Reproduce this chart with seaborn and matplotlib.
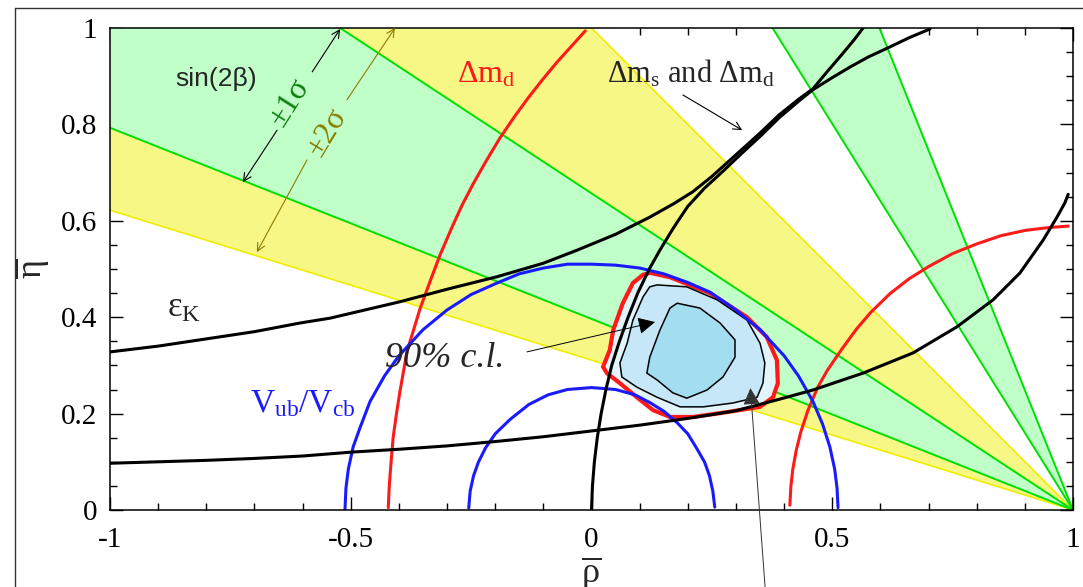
import numpy as np
import pandas as pd
import matplotlib
matplotlib.use("Agg")
import matplotlib.pyplot as plt
import seaborn as sns
from matplotlib.lines import Line2D
from matplotlib.ticker import FixedLocator, MultipleLocator

# sin(2beta) bands: all edges start at (rho, eta) = (1, 0)
apex = (1.0, 0.0)
band2_top_rho = 0.0        # 2 sigma, upper edge meets eta = 1
band2_left_eta = 0.622     # 2 sigma, lower edge meets rho = -1
band1_top_rho = -0.522     # 1 sigma, upper edge meets eta = 1
band1_left_eta = 0.793     # 1 sigma, lower edge meets rho = -1
band_b_top_rho = [0.376, 0.598]  # second solution, 1 sigma

# Delta m_d circles
dmd_out_rho = [-0.422, -0.420, -0.417, -0.412, -0.405, -0.398, -0.390, -0.383, -0.370, -0.356,
               -0.335, -0.315, -0.290, -0.269, -0.245, -0.220, -0.190, -0.160, -0.130, -0.100,
               -0.070, -0.040, -0.013]
dmd_out_eta = [0.005, 0.050, 0.090, 0.150, 0.200, 0.245, 0.290, 0.330, 0.372, 0.418,
               0.475, 0.528, 0.586, 0.632, 0.678, 0.722, 0.772, 0.816, 0.857, 0.895,
               0.931, 0.964, 0.994]
dmd_in_rho = [0.412, 0.414, 0.418, 0.425, 0.435, 0.450, 0.470, 0.490, 0.520, 0.550, 0.580,
              0.620, 0.660, 0.700, 0.750, 0.800, 0.850, 0.900, 0.950, 0.990]
dmd_in_eta = [0.010, 0.048, 0.084, 0.123, 0.163, 0.208, 0.255, 0.290, 0.334, 0.375, 0.410,
              0.449, 0.480, 0.505, 0.532, 0.552, 0.569, 0.580, 0.586, 0.589]

# |Vub/Vcb| circles
vub_out_rho = [-0.512, -0.510, -0.505, -0.495, -0.481, -0.460, -0.430, -0.400, -0.350, -0.300,
               -0.250, -0.196, -0.150, -0.100, -0.050, 0.000, 0.050, 0.100, 0.150, 0.200,
               0.246, 0.300, 0.350, 0.400, 0.430, 0.460, 0.480, 0.495, 0.505, 0.510, 0.512]
vub_out_eta = [0.000, 0.045, 0.085, 0.131, 0.170, 0.225, 0.278, 0.320, 0.374, 0.415,
               0.447, 0.471, 0.490, 0.502, 0.510, 0.510, 0.508, 0.502, 0.490, 0.472,
               0.452, 0.415, 0.374, 0.320, 0.278, 0.225, 0.178, 0.131, 0.085, 0.045, 0.005]
vub_in_rho = [-0.255, -0.252, -0.245, -0.235, -0.220, -0.200, -0.169, -0.130, -0.090, -0.050,
              0.000, 0.050, 0.090, 0.121, 0.150, 0.178, 0.200, 0.219, 0.235, 0.245, 0.252, 0.256]
vub_in_eta = [0.004, 0.039, 0.071, 0.099, 0.129, 0.158, 0.188, 0.219, 0.239, 0.250,
              0.254, 0.250, 0.239, 0.223, 0.205, 0.181, 0.158, 0.127, 0.099, 0.071, 0.039, 0.006]

# epsilon_K hyperbolas
ek_low_rho = [-1.0, -0.9, -0.8, -0.7, -0.6, -0.5, -0.4, -0.3, -0.2, -0.1, 0.0, 0.1, 0.2, 0.3,
              0.391, 0.46, 0.564, 0.668, 0.759, 0.834, 0.89, 0.938, 0.967, 0.983, 0.99]
ek_low_eta = [0.097, 0.100, 0.103, 0.107, 0.112, 0.120, 0.126, 0.133, 0.142, 0.152, 0.164,
              0.176, 0.190, 0.206, 0.230, 0.249, 0.284, 0.326, 0.380, 0.436, 0.492, 0.560,
              0.608, 0.637, 0.655]
ek_up_rho = [-1.0, -0.9, -0.8, -0.7, -0.605, -0.543, -0.398, -0.3, -0.196, -0.1, -0.03, 0.05,
             0.12, 0.17, 0.21, 0.25, 0.30, 0.35, 0.39, 0.43, 0.46, 0.49, 0.52, 0.545, 0.564]
ek_up_eta = [0.328, 0.340, 0.355, 0.370, 0.388, 0.398, 0.432, 0.458, 0.484, 0.512, 0.539,
             0.572, 0.607, 0.635, 0.660, 0.692, 0.737, 0.782, 0.820, 0.852, 0.874, 0.910,
             0.945, 0.975, 1.0]

# Delta m_s / Delta m_d
dms_rho = [0.0, 0.002, 0.006, 0.012, 0.020, 0.030, 0.042, 0.058, 0.076, 0.096, 0.120, 0.142,
           0.170, 0.200, 0.235, 0.270, 0.310, 0.350, 0.390, 0.430, 0.460, 0.500, 0.537, 0.575,
           0.614, 0.660, 0.703]
dms_eta = [0.0, 0.050, 0.100, 0.150, 0.200, 0.250, 0.300, 0.350, 0.400, 0.450, 0.500, 0.539,
           0.585, 0.630, 0.668, 0.700, 0.738, 0.775, 0.814, 0.848, 0.872, 0.897, 0.919, 0.940,
           0.958, 0.980, 0.998]

# fit contours
cl_red_rho = [0.122, 0.163, 0.246, 0.323, 0.364, 0.385, 0.387, 0.377, 0.350, 0.281, 0.211,
              0.163, 0.128, 0.094, 0.059, 0.032, 0.024, 0.038, 0.045, 0.065, 0.086, 0.107]
cl_red_eta = [0.492, 0.483, 0.450, 0.400, 0.359, 0.311, 0.263, 0.234, 0.214, 0.203, 0.193,
              0.193, 0.207, 0.234, 0.263, 0.284, 0.297, 0.332, 0.373, 0.429, 0.471, 0.488]
cl_mid_rho = [0.136, 0.198, 0.261, 0.323, 0.350, 0.360, 0.356, 0.344, 0.294, 0.232, 0.184,
              0.136, 0.094, 0.063, 0.059, 0.074, 0.086, 0.107, 0.121]
cl_mid_eta = [0.467, 0.463, 0.436, 0.394, 0.346, 0.305, 0.263, 0.234, 0.222, 0.214, 0.214,
              0.234, 0.255, 0.276, 0.305, 0.346, 0.394, 0.442, 0.463]
cl_in_rho = [0.178, 0.225, 0.267, 0.298, 0.298, 0.273, 0.240, 0.198, 0.169, 0.136, 0.115,
             0.121, 0.142, 0.163]
cl_in_eta = [0.429, 0.419, 0.388, 0.353, 0.317, 0.276, 0.249, 0.232, 0.243, 0.270, 0.284,
             0.317, 0.373, 0.419]

xtick_vals = [-1, -0.5, 0, 0.5, 1]
xtick_labels = ['-1', '-0.5', '0', '0.5', '1']
ytick_vals = [0, 0.2, 0.4, 0.6, 0.8, 1]
ytick_labels = ['0', '0.2', '0.4', '0.6', '0.8', '1']

GREEN_FILL = '#c0ffc8'
YELLOW_FILL = '#f7f786'
GREEN_LINE = '#00e000'
YELLOW_LINE = '#eeee00'
RED = '#ff1a1a'
BLUE = '#1a1aff'

sns.set_theme(style='ticks')
plt.rcParams['font.family'] = ['Liberation Serif', 'DejaVu Serif']
plt.rcParams['mathtext.fontset'] = 'stix'
plt.rcParams['mathtext.default'] = 'regular'
plt.rcParams['axes.unicode_minus'] = False

fig = plt.figure(figsize=(10.83, 5.87), dpi=100)
ax = fig.add_axes([110 / 1083, 77 / 587, 963 / 1083, 482 / 587])

# bands
ax.fill([apex[0], -1, -1, band2_top_rho], [apex[1], band2_left_eta, 1, 1],
        color=YELLOW_FILL, lw=0, zorder=1)
ax.fill([apex[0], -1, -1, band1_top_rho], [apex[1], band1_left_eta, 1, 1],
        color=GREEN_FILL, lw=0, zorder=1.1)
ax.fill([apex[0], band_b_top_rho[0], band_b_top_rho[1]], [apex[1], 1, 1],
        color=GREEN_FILL, lw=0, zorder=1.1)
for end in [(-1, band2_left_eta), (band2_top_rho, 1)]:
    ax.plot([apex[0], end[0]], [apex[1], end[1]], color=YELLOW_LINE, lw=1.2, zorder=1.2)
for end in [(-1, band1_left_eta), (band1_top_rho, 1),
            (band_b_top_rho[0], 1), (band_b_top_rho[1], 1)]:
    ax.plot([apex[0], end[0]], [apex[1], end[1]], color=GREEN_LINE, lw=1.4, zorder=1.3)

# contours
ax.fill(cl_red_rho, cl_red_eta, fc='#e1f5fa', ec=RED, lw=3, zorder=2)
ax.fill(cl_mid_rho, cl_mid_eta, fc='#c6e7f7', ec='black', lw=1.1, zorder=2.1)
ax.fill(cl_in_rho, cl_in_eta, fc='#a3ddf0', ec='black', lw=1.1, zorder=2.2)

# constraint curves
curves = [
    (dmd_out_rho, dmd_out_eta, RED),
    (dmd_in_rho, dmd_in_eta, RED),
    (vub_out_rho, vub_out_eta, BLUE),
    (vub_in_rho, vub_in_eta, BLUE),
    (ek_low_rho, ek_low_eta, 'black'),
    (ek_up_rho, ek_up_eta, 'black'),
    (dms_rho, dms_eta, 'black'),
]
for xs, ys, c in curves:
    sns.lineplot(x=xs, y=ys, sort=False, estimator=None, color=c, lw=2.2, ax=ax, zorder=3)

# labels
ax.text(-0.780, 0.894, 'sin(2β)', family='Liberation Sans', fontsize=19,
        ha='center', va='center', zorder=5)
ax.text(-0.626, 0.846, '±1σ', color='#0b7d0b', fontsize=23, rotation=57.6,
        ha='center', va='center', rotation_mode='anchor', zorder=5)
ax.text(-0.549, 0.784, '±2σ', color='#8a7d00', fontsize=23, rotation=58.6,
        ha='center', va='center', rotation_mode='anchor', zorder=5)
ax.text(-0.279, 0.886, r'$\Delta m_d$', color=RED, fontsize=23,
        ha='left', va='baseline', zorder=5)
ax.text(0.032, 0.886, r'$\Delta m_s$ and $\Delta m_d$',
        fontsize=22, ha='left', va='baseline', zorder=5)
ax.text(-0.882, 0.400, r'$\varepsilon_K$', fontsize=25,
        ha='left', va='baseline', zorder=5)
ax.text(-0.709, 0.203, r'$V_{ub}/V_{cb}$', color=BLUE,
        fontsize=24, ha='left', va='baseline', zorder=5)
ax.text(-0.429, 0.297, '90% c.l.', style='italic', fontsize=26,
        ha='left', va='baseline', zorder=5)

thin = dict(arrowstyle='->', color='black', lw=0.8, mutation_scale=14, shrinkA=0, shrinkB=0)
olive = dict(thin, color='#8a7d00')
ax.annotate('', xy=(-0.522, 0.998), xytext=(-0.580, 0.909), arrowprops=thin, zorder=5)
ax.annotate('', xy=(-0.724, 0.680), xytext=(-0.653, 0.788), arrowprops=thin, zorder=5)
ax.annotate('', xy=(-0.408, 1.0), xytext=(-0.508, 0.851), arrowprops=olive, zorder=5)
ax.annotate('', xy=(-0.695, 0.535), xytext=(-0.591, 0.726), arrowprops=olive, zorder=5)
ax.annotate('', xy=(0.313, 0.788), xytext=(0.190, 0.861), arrowprops=thin, zorder=5)

solid = dict(arrowstyle='-|>', color='black', lw=0.7, mutation_scale=26, shrinkA=0, shrinkB=0)
ax.annotate('', xy=(0.132, 0.390), xytext=(-0.134, 0.328), arrowprops=solid, zorder=6)
ax.annotate('', xy=(0.330, 0.253), xytext=(0.362, -0.18), annotation_clip=False,
            arrowprops=dict(solid, color='#333333'), zorder=6)

# axes
ax.set_xlim(-1, 1)
ax.set_ylim(0, 1)
ax.xaxis.set_major_locator(FixedLocator(xtick_vals))
ax.set_xticklabels(xtick_labels)
ax.xaxis.set_minor_locator(MultipleLocator(0.1))
ax.yaxis.set_major_locator(FixedLocator(ytick_vals))
ax.set_yticklabels(ytick_labels)
ax.yaxis.set_minor_locator(MultipleLocator(0.05))
ax.tick_params(which='both', direction='in', top=True, right=True, width=1, color='black',
               labelsize=21, labelcolor='black')
ax.tick_params(which='major', length=9.5)
ax.tick_params(which='minor', length=5)
ax.tick_params(axis='x', pad=12)
ax.tick_params(axis='y', pad=9)
for s in ax.spines.values():
    s.set_linewidth(1.1)
    s.set_color('black')
    s.set_zorder(4)

ax.set_xlabel(r'$\overline{\rho}$', fontsize=26)
ax.xaxis.set_label_coords(0.5, -0.092)
ax.set_ylabel(r'$\overline{\eta}$', fontsize=26)
ax.yaxis.set_label_coords(-0.06, 0.5)

# slide frame
fig.add_artist(Line2D([15 / 1083, 1], [1 - 8 / 587] * 2, color='#333333', lw=1))
fig.add_artist(Line2D([15 / 1083] * 2, [0, 1 - 8 / 587], color='#333333', lw=1))

fig.savefig('out.png', dpi=100)
